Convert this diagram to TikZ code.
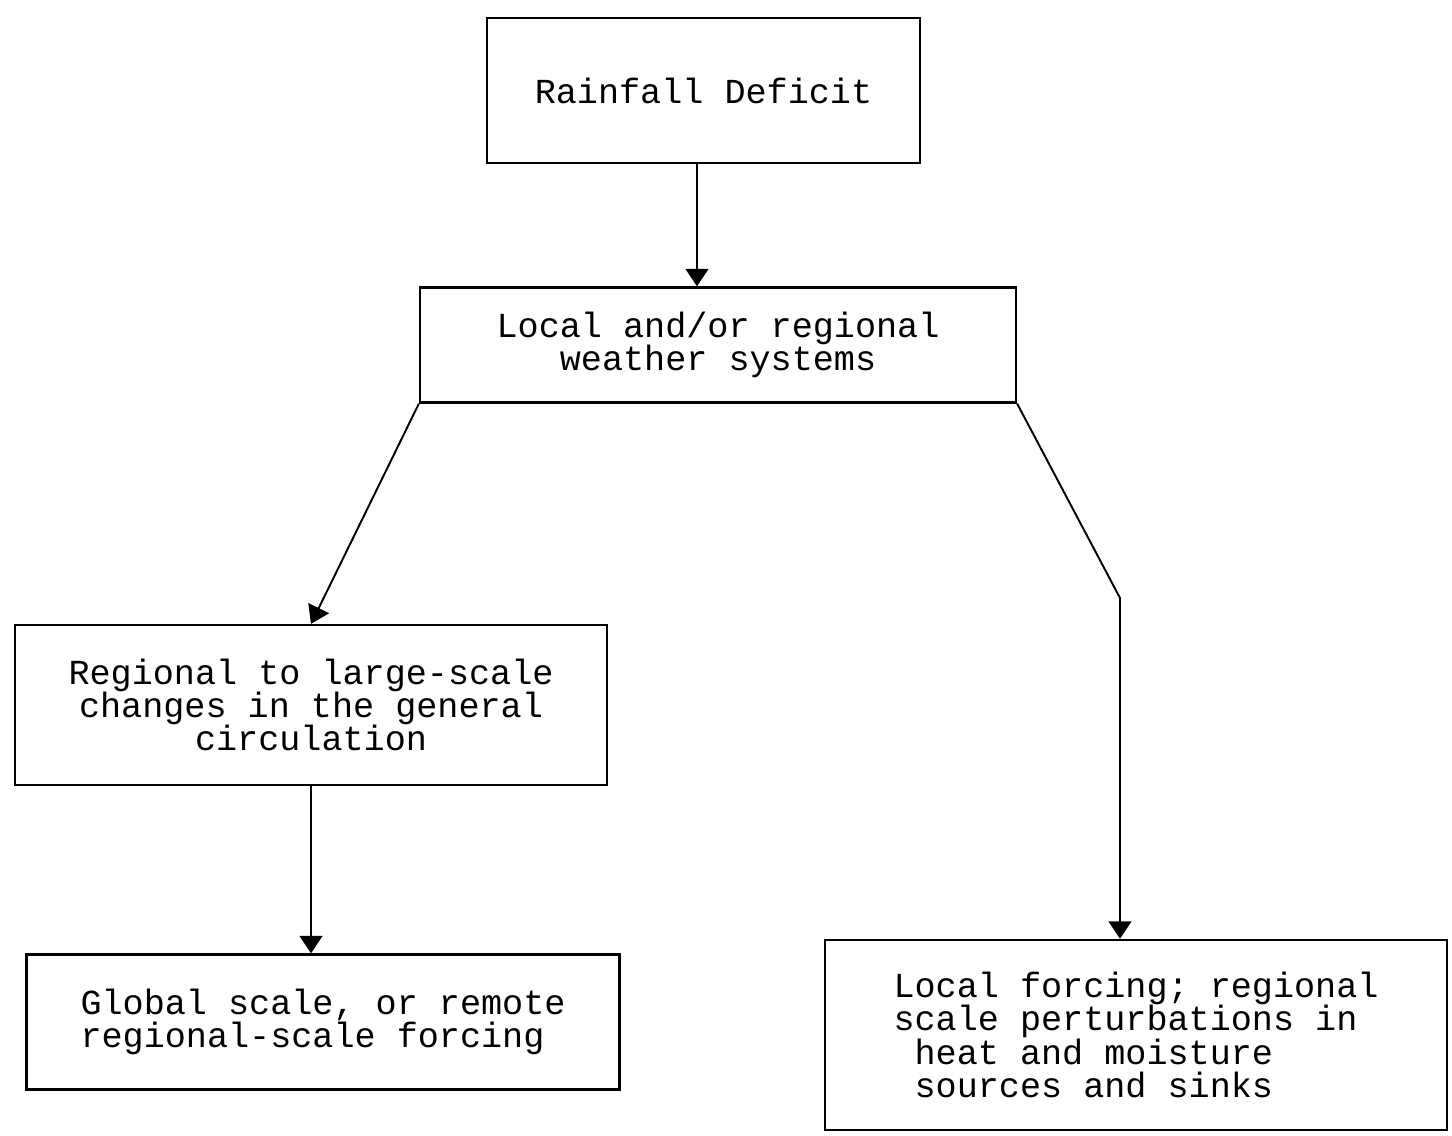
\documentclass[tikz,border=0pt]{standalone}
\usepackage{fontspec}
\setmonofont{Liberation Mono}
\usetikzlibrary{arrows.meta,calc}
\begin{document}
\begin{tikzpicture}[x=0.02cm,y=-0.02cm,
  box/.style={draw,line width=1.3pt,rectangle,inner sep=0pt,
    font=\ttfamily\fontsize{20}{19}\selectfont},
  conn/.style={line width=1.1pt,-{Triangle[width=13pt,length=10pt]}}]
\useasboundingbox (0,0) rectangle (1452,1135);
\node[box,minimum width=433*0.02cm,minimum height=145*0.02cm,align=center] (rain) at (703.5,90.5) {Rainfall Deficit};
\node[box,minimum width=596*0.02cm,minimum height=115*0.02cm,align=center] (weather) at (718,345) {Local and/or regional\\weather systems};
\node[box,minimum width=592*0.02cm,minimum height=160*0.02cm,align=center] (regional) at (311,705) {Regional to large-scale\\changes in the general\\circulation};
\node[box,minimum width=593*0.02cm,minimum height=135*0.02cm,align=left] (global) at (323,1022) {Global scale, or remote\\regional-scale forcing};
\node[box,minimum width=622*0.02cm,minimum height=190*0.02cm,align=left] (local) at (1136,1035) {Local forcing; regional\\scale perturbations in\\\hspace*{0.6em}heat and moisture\\\hspace*{0.6em}sources and sinks};
\coordinate (bend) at (1120,598);
\draw[conn] ([xshift=-6.5*0.02cm]rain.south) -- ([xshift=-6.5*0.02cm]rain.south |- weather.north);
\draw[conn] (weather.south west) -- (regional.north);
\draw[conn] (regional.south) -- (regional.south |- global.north);
\draw[conn] (weather.south east) -- (bend) -- (bend |- local.north);
\end{tikzpicture}
\end{document}
